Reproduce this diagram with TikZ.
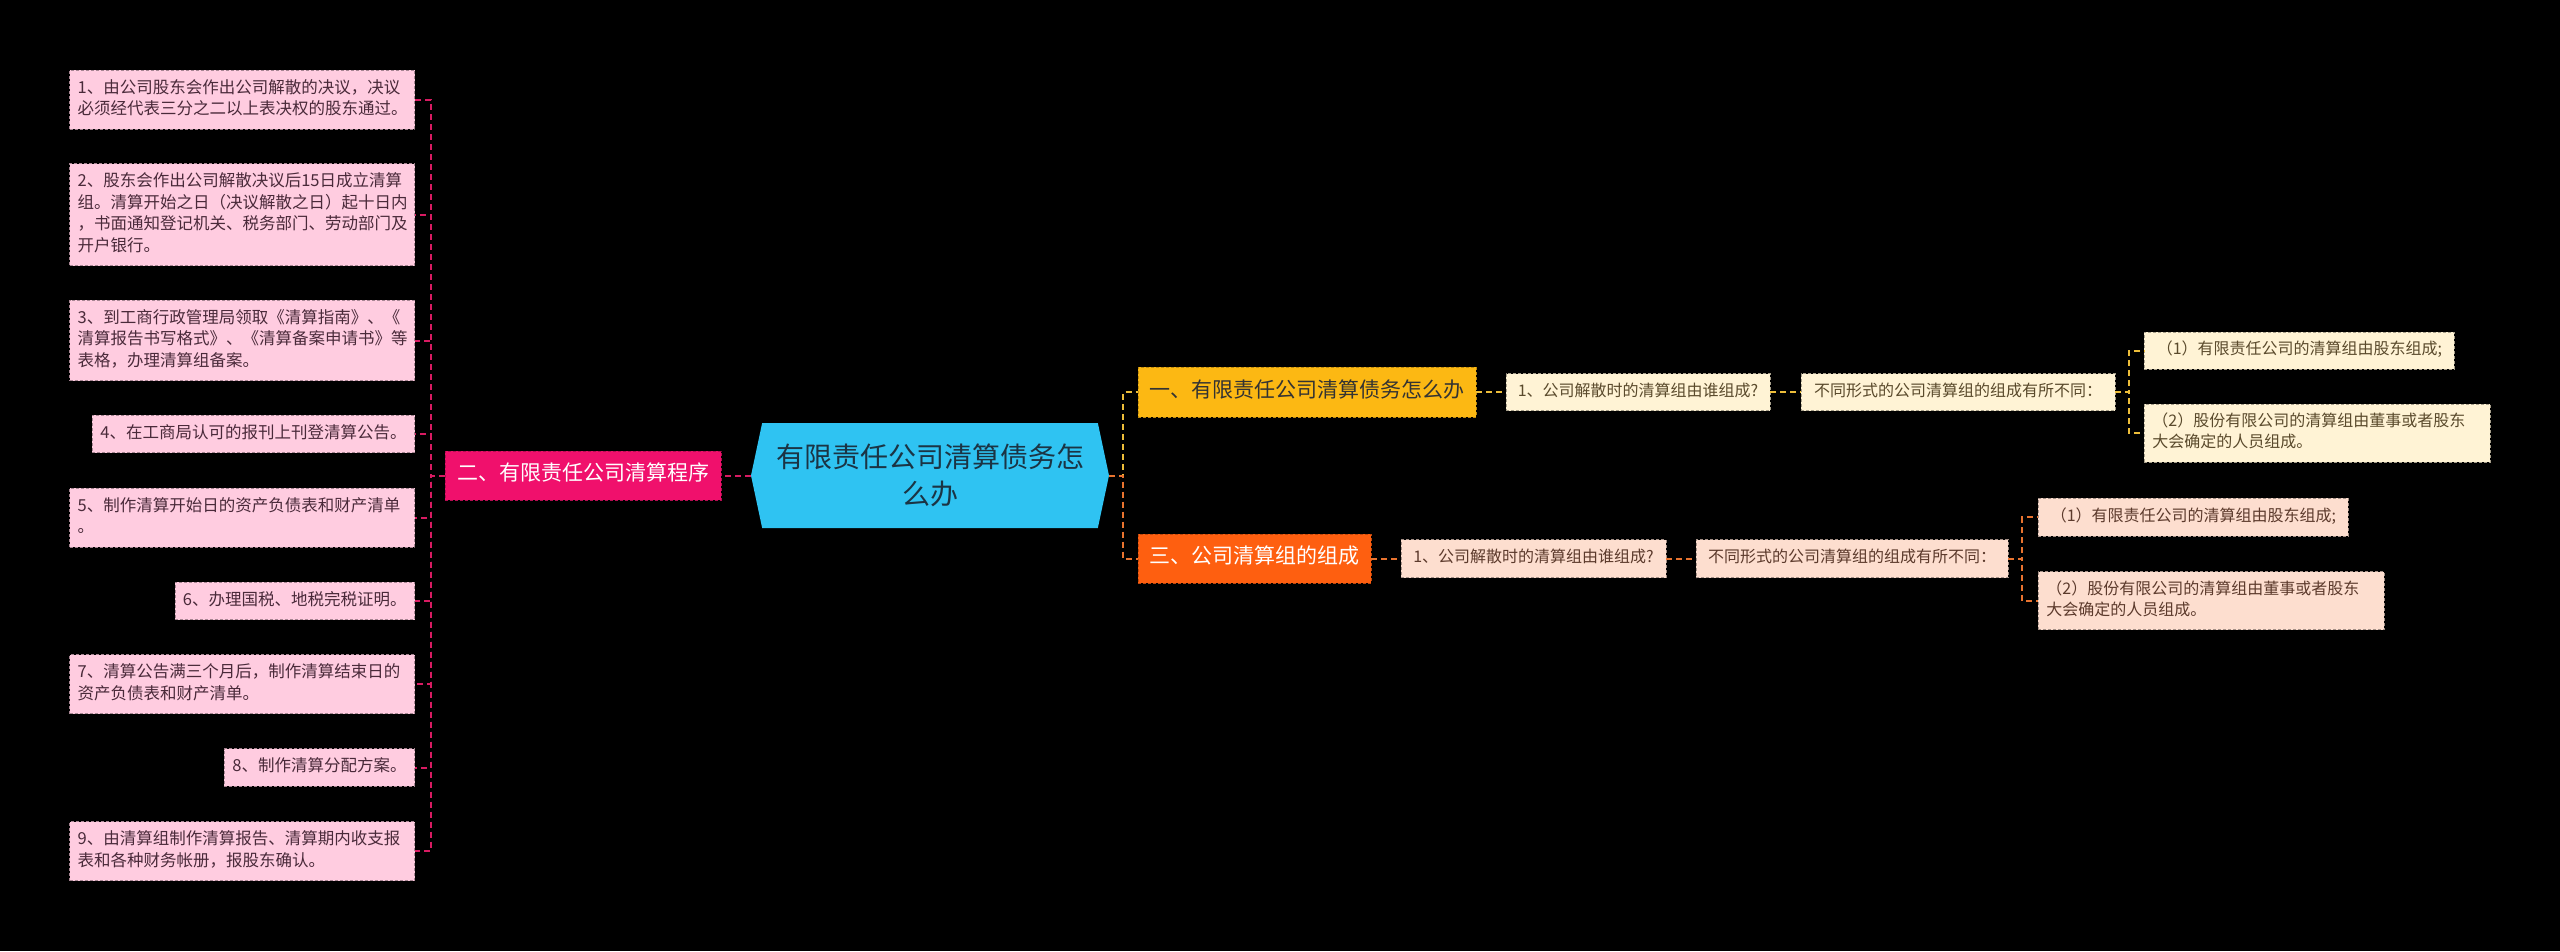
\documentclass[tikz,border=0pt]{standalone}
\usepackage{fontspec}
\setmainfont{Noto Sans CJK SC}
\usepackage{xcolor}
\usepackage{tikz}
\usetikzlibrary{shapes.symbols}

\definecolor{rootblue}{HTML}{2FC3F2}
\definecolor{rootink}{HTML}{1B3444}
\definecolor{pinkmain}{HTML}{F0106C}
\definecolor{pinkline}{HTML}{D81B62}
\definecolor{pinkleaf}{HTML}{FFCCE0}
\definecolor{pinkink}{HTML}{4A2A3A}
\definecolor{goldmain}{HTML}{FCB813}
\definecolor{goldline}{HTML}{EDBE3A}
\definecolor{goldleaf}{HTML}{FFF3D5}
\definecolor{goldink}{HTML}{5A4A2C}
\definecolor{orgmain}{HTML}{FE5F10}
\definecolor{orgline}{HTML}{E8732F}
\definecolor{orgleaf}{HTML}{FDDECF}
\definecolor{orgink}{HTML}{5C3A2C}

\tikzset{
  box/.style={rectangle, inner xsep=8pt, inner ysep=8pt, line width=0.8pt,
    dash pattern=on 3pt off 2pt, execute at begin node=\strut, execute at end node=\strut},
  pinkbox/.style={box, fill=pinkleaf, draw=pinkleaf!65!black, text=pinkink,
    font=\fontsize{16.5}{21.5}\selectfont, align=left},
  goldbox/.style={box, fill=goldleaf, draw=goldleaf!65!black, text=goldink,
    font=\fontsize{16}{21}\selectfont, align=left, minimum height=37pt},
  orgbox/.style={box, fill=orgleaf, draw=orgleaf!65!black, text=orgink,
    font=\fontsize{16}{21}\selectfont, align=left, minimum height=38pt},
  secbox/.style={box, font=\fontsize{21}{27}\selectfont, minimum height=49pt},
  pedge/.style={draw=pinkline, line width=2pt, dash pattern=on 6pt off 4pt},
  gedge/.style={draw=goldline, line width=2pt, dash pattern=on 6pt off 4pt},
  oedge/.style={draw=orgline, line width=2pt, dash pattern=on 6pt off 4pt}
}

\begin{document}
\begin{tikzpicture}[x=1pt, y=-1pt]

\fill[black] (0,0) rectangle (2560,951);
\useasboundingbox (0,0) rectangle (2560,951);

\node[signal, signal to=west and east, signal pointer angle=156, fill=rootblue,
  text=rootink, font=\fontsize{28}{37}\selectfont, align=center,
  minimum width=358pt, minimum height=105pt, inner sep=4pt] (root) at (930,475.5)
  {有限责任公司清算债务怎\\么办};

\node[secbox, fill=pinkmain, draw=pinkmain!75!black, text=white, minimum width=276pt]
  (sec2) at (583,475.5) {二、有限责任公司清算程序};
\node[secbox, fill=goldmain, draw=goldmain!75!black, text=black!80, minimum width=338pt, minimum height=50pt]
  (sec1) at (1307,392) {一、有限责任公司清算债务怎么办};
\node[secbox, fill=orgmain, draw=orgmain!75!black, text=white, minimum width=233pt]
  (sec3) at (1254.5,558.5) {三、公司清算组的组成};

\node[pinkbox, anchor=east, text width=329pt] (step1) at (415,99.5)
  {1、由公司股东会作出公司解散的决议，决议\\必须经代表三分之二以上表决权的股东通过。};
\node[pinkbox, anchor=east, text width=329pt] (step2) at (415,214.5)
  {2、股东会作出公司解散决议后15日成立清算\\组。清算开始之日（决议解散之日）起十日内\\，书面通知登记机关、税务部门、劳动部门及\\开户银行。};
\node[pinkbox, anchor=east, text width=329pt] (step3) at (415,340.5)
  {3、到工商行政管理局领取《清算指南》、《\\清算报告书写格式》、《清算备案申请书》等\\表格，办理清算组备案。};
\node[pinkbox, anchor=east] (step4) at (415,434) {4、在工商局认可的报刊上刊登清算公告。};
\node[pinkbox, anchor=east, text width=329pt] (step5) at (415,517.5)
  {5、制作清算开始日的资产负债表和财产清单\\。};
\node[pinkbox, anchor=east] (step6) at (415,601) {6、办理国税、地税完税证明。};
\node[pinkbox, anchor=east, text width=329pt] (step7) at (415,684)
  {7、清算公告满三个月后，制作清算结束日的\\资产负债表和财产清单。};
\node[pinkbox, anchor=east] (step8) at (415,767.5) {8、制作清算分配方案。};
\node[pinkbox, anchor=east, text width=329pt] (step9) at (415,851)
  {9、由清算组制作清算报告、清算期内收支报\\表和各种财务帐册，报股东确认。};

\node[goldbox, minimum width=264pt] (gask) at (1638,392) {1、公司解散时的清算组由谁组成?};
\node[goldbox, minimum width=314pt] (gdiff) at (1958,392) {不同形式的公司清算组的组成有所不同：};
\node[goldbox, anchor=west, minimum width=310pt] (gltd) at (2144,350.5) {（1）有限责任公司的清算组由股东组成;};
\node[goldbox, anchor=west, text width=330pt] (gshare) at (2144,433)
  {（2）股份有限公司的清算组由董事或者股东\\大会确定的人员组成。};

\node[orgbox, minimum width=265pt] (oask) at (1533.5,558.5) {1、公司解散时的清算组由谁组成?};
\node[orgbox, minimum width=312pt] (odiff) at (1852,558.5) {不同形式的公司清算组的组成有所不同：};
\node[orgbox, anchor=west, minimum width=310pt] (oltd) at (2038,517) {（1）有限责任公司的清算组由股东组成;};
\node[orgbox, anchor=west, text width=330pt] (oshare) at (2038,600.5)
  {（2）股份有限公司的清算组由董事或者股东\\大会确定的人员组成。};

\draw[pedge] (root.west) -- (sec2.east);
\draw[pedge] (sec2.west) -- ++(-14,0) |- (step1.east);
\draw[pedge] (sec2.west) -- ++(-14,0) |- (step2.east);
\draw[pedge] (sec2.west) -- ++(-14,0) |- (step3.east);
\draw[pedge] (sec2.west) -- ++(-14,0) |- (step4.east);
\draw[pedge] (sec2.west) -- ++(-14,0) |- (step5.east);
\draw[pedge] (sec2.west) -- ++(-14,0) |- (step6.east);
\draw[pedge] (sec2.west) -- ++(-14,0) |- (step7.east);
\draw[pedge] (sec2.west) -- ++(-14,0) |- (step8.east);
\draw[pedge] (sec2.west) -- ++(-14,0) |- (step9.east);

\draw[gedge] (root.east) -- ++(14,0) |- (sec1.west);
\draw[oedge] (root.east) -- ++(14,0) |- (sec3.west);

\draw[gedge] (sec1.east) -- (gask.west);
\draw[gedge] (gask.east) -- (gdiff.west);
\draw[gedge] (gdiff.east) -- ++(14,0) |- (gltd.west);
\draw[gedge] (gdiff.east) -- ++(14,0) |- (gshare.west);

\draw[oedge] (sec3.east) -- (oask.west);
\draw[oedge] (oask.east) -- (odiff.west);
\draw[oedge] (odiff.east) -- ++(14,0) |- (oltd.west);
\draw[oedge] (odiff.east) -- ++(14,0) |- (oshare.west);

\end{tikzpicture}
\end{document}
